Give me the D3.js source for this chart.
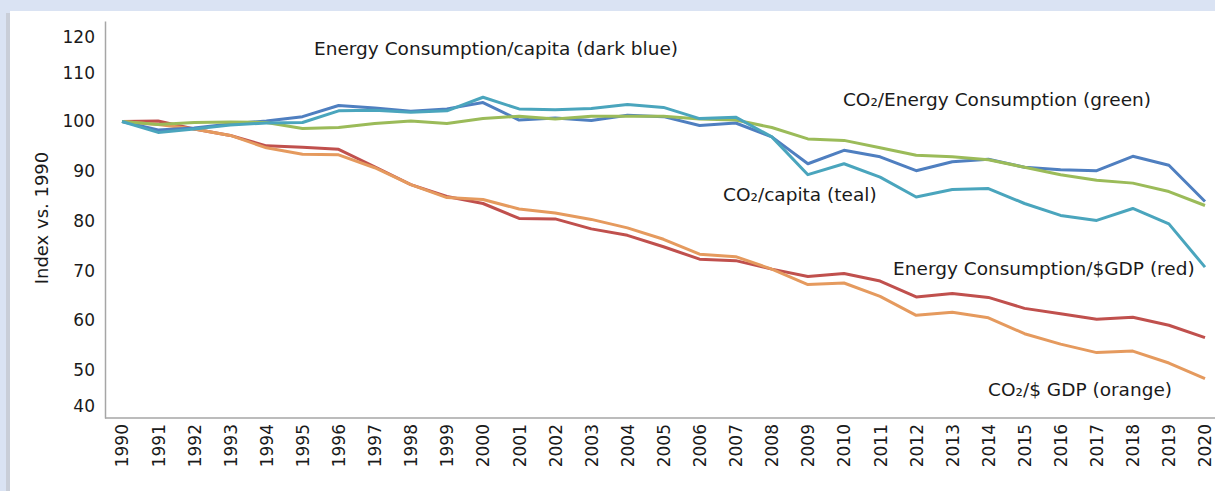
<!DOCTYPE html>
<html>
<head>
<meta charset="utf-8">
<script src="https://cdn.jsdelivr.net/npm/d3@7"></script>
<style>
  html, body { margin: 0; padding: 0; background: #dae3f3; }
  svg { display: block; }
  text { font-family: "DejaVu Sans", Verdana, sans-serif; fill: #1a1a1a; }
</style>
</head>
<body>
<svg id="chart" width="1215" height="491"></svg>
<script>
// ---- data ----
const years = d3.range(1990, 2021);
const yTicks = [40, 50, 60, 70, 80, 90, 100, 110, 120];

const energyPerCapita = [100, 98.3, 98.7, 99.5, 100.1, 101.0, 103.3, 102.8, 102.1, 102.6, 103.9, 100.3, 100.7, 100.2, 101.3,
  101.0, 99.2, 99.7, 96.9, 91.5, 94.2, 92.9, 90.1, 91.9, 92.4, 90.8, 90.3, 90.1, 93.0, 91.2, 83.9];
const co2PerCapita = [100, 97.8, 98.5, 99.3, 99.7, 99.8, 102.2, 102.3, 101.9, 102.2, 105.0, 102.6, 102.4, 102.7, 103.5,
  102.9, 100.6, 100.9, 96.9, 89.3, 91.5, 88.8, 84.8, 86.3, 86.5, 83.5, 81.1, 80.1, 82.5, 79.4, 70.7];
const co2PerEnergy = [100, 99.4, 99.8, 99.9, 99.8, 98.6, 98.8, 99.6, 100.1, 99.6, 100.6, 101.1, 100.5, 101.1, 101.1,
  101.1, 100.5, 100.3, 98.8, 96.5, 96.2, 94.7, 93.2, 92.9, 92.3, 90.8, 89.3, 88.2, 87.6, 85.9, 83.1];
const energyPerGDP = [100, 100.1, 98.5, 97.2, 95.1, 94.8, 94.4, 90.9, 87.3, 84.9, 83.5, 80.5, 80.4, 78.4, 77.1,
  74.8, 72.3, 72.0, 70.3, 68.8, 69.4, 67.9, 64.7, 65.4, 64.6, 62.4, 61.3, 60.2, 60.6, 59.0, 56.5];
const co2PerGDP = [100, 99.4, 98.5, 97.2, 94.7, 93.4, 93.3, 90.7, 87.3, 84.7, 84.3, 82.4, 81.6, 80.3, 78.6,
  76.3, 73.3, 72.8, 70.3, 67.2, 67.5, 64.8, 61.0, 61.6, 60.5, 57.3, 55.2, 53.5, 53.8, 51.4, 47.6];

const seriesNames = ["Energy Consumption/$GDP (red)", "CO\u2082/$ GDP (orange)", "Energy Consumption/capita (dark blue)",
  "CO\u2082/Energy Consumption (green)", "CO\u2082/capita (teal)"];
const seriesValues = [energyPerGDP, co2PerGDP, energyPerCapita, co2PerEnergy, co2PerCapita];
const seriesColors = ["#c0504d", "#e59a5e", "#4f7fc0", "#9bbb59", "#4aa5bd"];
// label anchor (year, value) in data space
const labelYears = [2011.36, 2013.99, 1995.32, 2009.97, 2006.65];
const labelValues = [70.5, 44.7, 116.9, 104.6, 85.4];

// ---- layout ----
const svg = d3.select("#chart");
svg.append("rect").attr("x", 0).attr("y", 0).attr("width", 1215).attr("height", 491).attr("fill", "#dae3f3");
svg.append("rect").attr("x", 6).attr("y", 13).attr("width", 6).attr("height", 478).attr("fill", "#c9ced8");
svg.append("rect").attr("x", 10).attr("y", 11).attr("width", 1205).attr("height", 480).attr("fill", "#ffffff");

const x = d3.scaleLinear().domain([1990, 2020]).range([122, 1205]);
const y = d3.scaleLinear()
  .domain([36.6, 40, 50, 100, 110, 120, 124.4])
  .range([418, 406, 370, 121.5, 73, 37, 21]);

// axes
const yAxis = d3.axisLeft(y).tickValues(yTicks).tickSize(0).tickSizeOuter(0).tickPadding(10);
const gy = svg.append("g").attr("transform", "translate(105,0)").call(yAxis);
gy.select(".domain").attr("stroke", "#a6a6a6").attr("stroke-width", 1.5);
gy.selectAll("text").style("font-size", "17px").attr("fill", "#1a1a1a").style("font-family", "DejaVu Sans, sans-serif");

svg.append("line").attr("x1", 105).attr("x2", 1215).attr("y1", 418).attr("y2", 418)
  .attr("stroke", "#a6a6a6").attr("stroke-width", 1.5);

const xAxis = d3.axisBottom(x).tickValues(years).tickFormat(d3.format("d")).tickSize(0).tickSizeOuter(0);
const gx = svg.append("g").attr("transform", "translate(0,418)").call(xAxis);
gx.select(".domain").remove();
gx.selectAll("text")
  .style("font-size", "17px").style("font-family", "DejaVu Sans, sans-serif").attr("fill", "#1a1a1a")
  .attr("text-anchor", "end")
  .attr("transform", "rotate(-90)")
  .attr("x", -6).attr("y", 0).attr("dy", "0.35em");

// y title
svg.append("text")
  .attr("transform", "translate(48,218) rotate(-90)")
  .attr("text-anchor", "middle")
  .style("font-size", "18px")
  .text("Index vs. 1990");

// lines
const line = d3.line().x((d, i) => x(years[i])).y(d => y(d));
svg.append("g").selectAll("path")
  .data(seriesValues)
  .join("path")
  .attr("d", d => line(d))
  .attr("fill", "none")
  .attr("stroke", (d, i) => seriesColors[i])
  .attr("stroke-width", 3)
  .attr("stroke-linejoin", "round");

// labels
svg.append("g").selectAll("text")
  .data(seriesNames)
  .join("text")
  .attr("x", (d, i) => x(labelYears[i]))
  .attr("y", (d, i) => y(labelValues[i]))
  .attr("dy", "0.35em")
  .style("font-size", "18.5px")
  .text(d => d);
</script>
</body>
</html>
